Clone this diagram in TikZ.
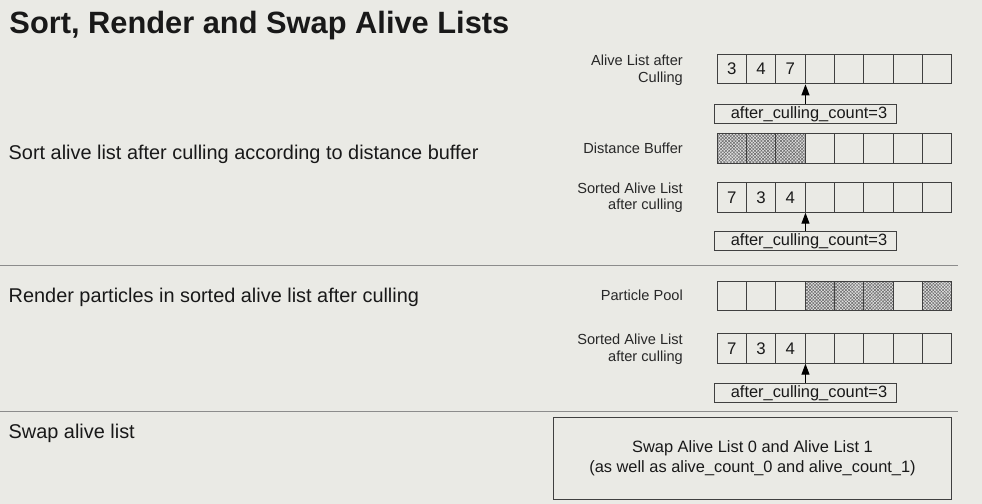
\documentclass[tikz,border=0pt]{standalone}
\usepackage{fontspec}
\setmainfont{Liberation Sans}
\usetikzlibrary{arrows.meta,patterns.meta}
\definecolor{bg}{RGB}{234,234,229}
\definecolor{ln}{RGB}{64,64,64}
\definecolor{tx}{RGB}{25,25,25}
\definecolor{lbl}{RGB}{40,40,40}
\definecolor{sepc}{RGB}{140,140,140}
\newcommand\fsz[2]{\fontsize{#1bp}{#2bp}\selectfont}
\begin{document}
\begin{tikzpicture}[x=1bp,y=-1bp,
  cell/.style={draw=ln,line width=0.9bp,minimum width=29.34bp,minimum height=29.5bp,inner sep=0pt,text=tx,font=\fsz{16.8}{19}},
  hatchcell/.style={cell,
    preaction={fill=gray!25},
    preaction={pattern={Lines[angle=45,distance=2.3pt,line width=0.5pt]},pattern color=black!60},
    preaction={pattern={Lines[angle=-45,distance=2.3pt,line width=0.5pt]},pattern color=black!60}},
  cntbox/.style={draw=ln,line width=0.9bp,minimum width=182.4bp,minimum height=19.3bp,inner sep=0pt,text=tx,font=\fsz{16.4}{19}},
  lab/.style={inner sep=0pt,text=lbl,font=\fsz{14.6}{16.5},align=right,anchor=base east},
  desc/.style={inner sep=0pt,text=tx,font=\fsz{19.9}{23},anchor=base west},
  ttl/.style={inner sep=0pt,text=black!90,font=\fsz{30.8}{36}\bfseries,anchor=base west},
  arr/.style={draw=black,line width=1.1bp,-{Triangle[length=11bp,width=8bp]}},
  sepline/.style={draw=sepc,line width=1bp},
  swapbox/.style={draw=ln,line width=0.9bp,minimum width=398.4bp,minimum height=82bp,inner sep=0pt,text=tx,font=\fsz{16.4}{20},align=center}
]
\fill[bg] (0,0) rectangle (982,504);
\useasboundingbox (0,0) rectangle (982,504);

% title
\node[ttl] (title) at (9.3,33.3) {Sort, Render and Swap Alive Lists};

% left descriptions
\node[desc] (d1) at (8.5,160) {Sort alive list after culling according to distance buffer};
\node[desc] (d2) at (8.5,302.7) {Render particles in sorted alive list after culling};
\node[desc] (d3) at (8.5,438.3) {Swap alive list};

% separators
\coordinate (s1a) at (0,266);
\coordinate (s1b) at (957.7,266);
\coordinate (s2a) at (0,411.3);
\coordinate (s2b) at (957.7,411.3);
\draw[sepline] (s1a) -- (s1b);
\draw[sepline] (s2a) -- (s2b);

% row A: alive list after culling
\node[lab] (labA) at (683,82.5) {Alive List after\\Culling};
\foreach \i/\t in {1/3,2/4,3/7,4/,5/,6/,7/,8/}
  \node[cell] (a\i) at ({717+(\i-0.5)*29.34},69.15) {\t};
\node[cntbox] (cntA) at (805.5,113.8) {\hspace*{7bp}after\_culling\_count=3};
\draw[arr] (cntA.north -| a3.south east) -- (a3.south east);

% row B: distance buffer
\node[lab] (labB) at (683,153.3) {Distance Buffer};
\foreach \i in {1,2,3}
  \node[hatchcell] (b\i) at ({717+(\i-0.5)*29.34},148.65) {};
\foreach \i in {4,...,8}
  \node[cell] (b\i) at ({717+(\i-0.5)*29.34},148.65) {};

% row C: sorted alive list
\node[lab] (labC) at (683,210) {Sorted Alive List\\after culling};
\foreach \i/\t in {1/7,2/3,3/4,4/,5/,6/,7/,8/}
  \node[cell] (c\i) at ({717+(\i-0.5)*29.34},197.5) {\t};
\node[cntbox] (cntC) at (805.5,241.2) {\hspace*{7bp}after\_culling\_count=3};
\draw[arr] (cntC.north -| c3.south east) -- (c3.south east);

% row D: particle pool
\node[lab] (labD) at (683,300.7) {Particle Pool};
\foreach \i in {1,2,3,7}
  \node[cell] (p\i) at ({717+(\i-0.5)*29.34},296) {};
\foreach \i in {4,5,6,8}
  \node[hatchcell] (p\i) at ({717+(\i-0.5)*29.34},296) {};

% row E: sorted alive list
\node[lab] (labE) at (683,361.5) {Sorted Alive List\\after culling};
\foreach \i/\t in {1/7,2/3,3/4,4/,5/,6/,7/,8/}
  \node[cell] (e\i) at ({717+(\i-0.5)*29.34},348.5) {\t};
\node[cntbox] (cntE) at (805.5,393) {\hspace*{7bp}after\_culling\_count=3};
\draw[arr] (cntE.north -| e3.south east) -- (e3.south east);

% swap box
\node[swapbox] (swap) at (752.5,458.3) {Swap Alive List 0 and Alive List 1\\(as well as alive\_count\_0 and alive\_count\_1)};
\end{tikzpicture}
\end{document}
